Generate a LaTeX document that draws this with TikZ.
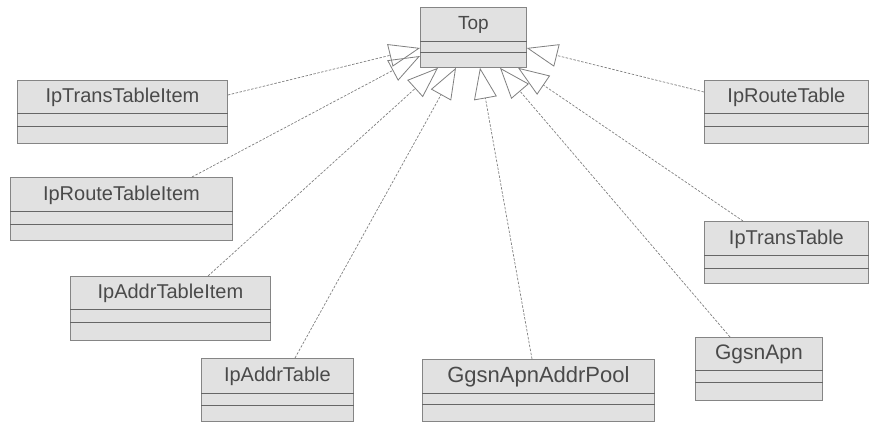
\documentclass[tikz,border=0pt]{standalone}
\usepackage{fontspec}
\setmainfont{Liberation Sans}
\usetikzlibrary{arrows.meta,calc}

\definecolor{boxfill}{HTML}{E1E1E1}
\definecolor{boxedge}{HTML}{858585}
\definecolor{sepcol}{HTML}{666666}
\definecolor{namecol}{HTML}{4A4A4A}
\definecolor{linkcol}{HTML}{808080}

\tikzset{
  classbox/.style={draw=boxedge, fill=boxfill, line width=0.8pt, anchor=north west, inner sep=0pt},
  sepline/.style={draw=sepcol, line width=1pt},
  classname/.style={text=namecol, inner sep=0pt},
  realize/.style={draw=linkcol, line width=0.7pt, dash pattern=on 2.5pt off 1.5pt,
    -{Triangle[open, length=31pt, width=23pt, line width=0.8pt]}}
}

% class box: name, x, y, width, height, first separator, second separator, font size, label
\newcommand\umlclass[9]{%
  \node[classbox, minimum width=#4pt, minimum height=#5pt] (#1) at (#2,#3) {};
  \draw[sepline] ($(#1.north west)+(0,#6)$) -- ($(#1.north east)+(0,#6)$);
  \draw[sepline] ($(#1.north west)+(0,#7)$) -- ($(#1.north east)+(0,#7)$);
  \node[classname, font=\fontsize{#8}{#8}\selectfont] at ($(#1.north)+(0,#6/2+1)$) {#9};
}

\begin{document}
\begin{tikzpicture}[x=1pt, y=-1pt]
  \fill[white] (0,0) rectangle (870,423);
  \useasboundingbox (0,0) rectangle (870,423);

  \umlclass{top}{420}{7}{106}{60}{34}{45}{19}{Top}
  \umlclass{ipti}{17}{80}{210}{63}{33}{46}{20}{IpTransTableItem}
  \umlclass{iprt}{704}{80}{164}{63}{33}{46}{20}{IpRouteTable}
  \umlclass{iprti}{10}{177}{222}{63}{34}{47}{20}{IpRouteTableItem}
  \umlclass{iptt}{704}{221}{164}{62}{34}{47}{20}{IpTransTable}
  \umlclass{ipati}{70}{276}{200}{64}{33}{46}{20}{IpAddrTableItem}
  \umlclass{ipat}{201}{358}{152}{63}{35}{47}{20}{IpAddrTable}
  \umlclass{pool}{422}{359}{232}{62}{34}{45}{22}{GgsnApnAddrPool}
  \umlclass{apn}{695}{337}{127}{63}{33}{45}{21}{GgsnApn}

  % realization links to Top
  \draw[realize] ($(ipti.north east)+(0,15)$) -- ($(top.north west)+(0,41)$);
  \draw[realize] ($(iprti.north west)+(182,0)$) -- ($(top.north west)+(0,49)$);
  \draw[realize] ($(ipati.north west)+(138,0)$) -- ($(top.south west)+(18,0)$);
  \draw[realize] ($(ipat.north west)+(94,0)$) -- ($(top.south west)+(36,0)$);
  \draw[realize] ($(pool.north west)+(110,0)$) -- ($(top.south west)+(60,0)$);
  \draw[realize] ($(apn.north west)+(35,0)$) -- ($(top.south west)+(80,0)$);
  \draw[realize] ($(iptt.north west)+(39,0)$) -- ($(top.south west)+(98,0)$);
  \draw[realize] ($(iprt.north west)+(0,12)$) -- ($(top.north east)+(0,41)$);
\end{tikzpicture}
\end{document}
